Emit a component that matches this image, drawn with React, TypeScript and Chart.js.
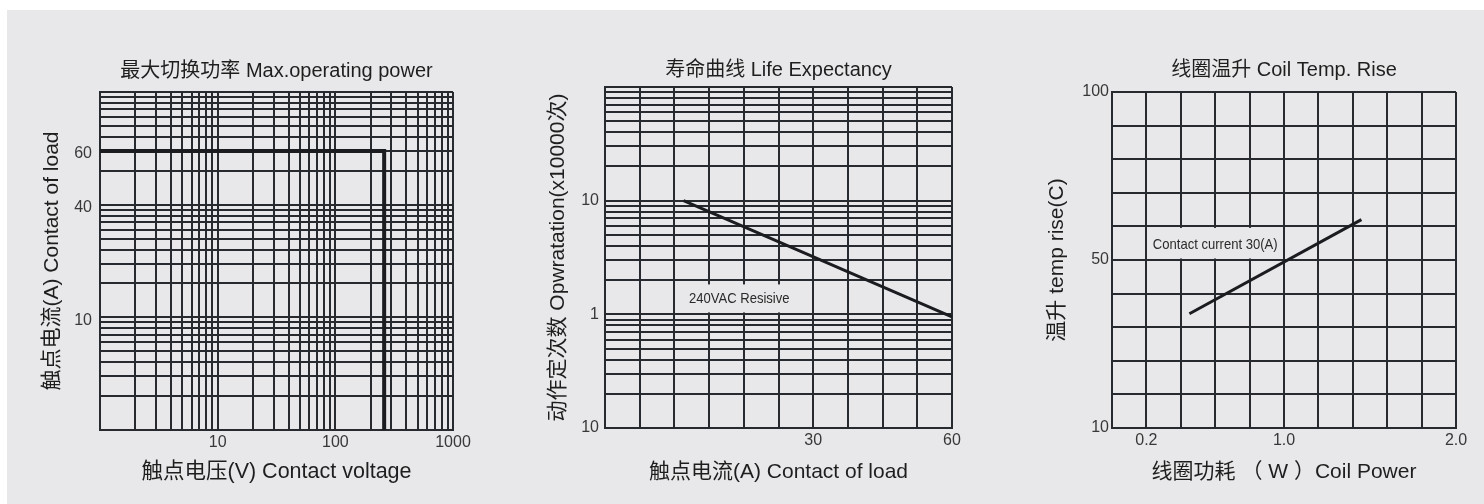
import React, { useEffect, useRef } from "react";
import { Chart, registerables } from "chart.js";

Chart.register(...registerables);

// ---------- shared look ----------
const FONT = '"Liberation Sans", Arial, "Noto Sans CJK SC", sans-serif';
const INK = "#272a2f";
const LINE_INK = "#1a1c1f";
const TITLE_COLOR = "#1e1e1e";
const TICK_COLOR = "#383838";
const PAGE_BG = "#e8e8ea";

// ---------- chart 1 : max operating power ----------
const powerTitle = "最大切换功率 Max.operating power";
const powerXTitle = "触点电压(V) Contact voltage";
const powerYTitle = "触点电流(A) Contact of load";
const powerXTickValues = [10, 100, 1000];
const powerXTickLabels = ["10", "100", "1000"];
// printed label -> position on the log paper
const powerYTickLabels = ["10", "40", "60"];
const powerYTickPaper = [10, 100, 300];
const powerVoltage = [1, 260, 260];
const powerCurrent: (number | null)[] = [60, 60, null]; // null = down to the paper floor
const POWER_X_MIN = 1, POWER_X_MAX = 1000, POWER_Y_MIN = 1, POWER_Y_MAX = 1000;

// ---------- chart 2 : life expectancy ----------
const lifeTitle = "寿命曲线 Life Expectancy";
const lifeXTitle = "触点电流(A) Contact of load";
const lifeYTitle = "动作定次数 Opwratation(x10000次)";
const lifeXTickValues = [30, 60];
const lifeXTickLabels = ["30", "60"];
const lifeYTickValues = [0.1, 1, 10];
const lifeYTickLabels = ["10", "1", "10"];
const lifeCurrent = [15, 60];
const lifeOperations = [10, 0.95];
const lifeNote = "240VAC Resisive";
const lifeNoteAt = { x: 20, y: 1.38 };
const LIFE_X_MIN = 10, LIFE_X_MAX = 60, LIFE_Y_MIN = 0.1, LIFE_Y_MAX = 100;

// ---------- chart 3 : coil temperature rise ----------
const coilTitle = "线圈温升 Coil Temp. Rise";
const coilXTitle = "线圈功耗 （ W ）Coil Power";
const coilYTitle = "温升 temp rise(C)";
const coilXTickValues = [0.2, 1.0, 2.0];
const coilXTickLabels = ["0.2", "1.0", "2.0"];
const coilYTickValues = [0, 50, 100];
const coilYTickLabels = ["10", "50", "100"];
const coilPower = [0.45, 1.45];
const coilTemp = [34, 62];
const coilNote = "Contact current 30(A)";
const coilNoteAt = { x: 0.6, y: 54.5 };
const coilNoteBox = { x0: 0.2, x1: 1.0, y0: 50, y1: 60 };
const COIL_X_MIN = 0, COIL_X_MAX = 2, COIL_X_STEP = 0.2, COIL_Y_MIN = 0, COIL_Y_MAX = 100, COIL_Y_STEP = 10;

// ---------- helpers ----------
function logPaper(min: number, max: number): number[] {
  const out: number[] = [];
  for (let e = Math.floor(Math.log10(min)); Math.pow(10, e) <= max * 1.0001; e++) {
    for (let m = 1; m < 10; m++) {
      const v = +(m * Math.pow(10, e)).toPrecision(6);
      if (v >= min * 0.9999 && v <= max * 1.0001) out.push(v);
    }
  }
  return out;
}
function linPaper(min: number, max: number, step: number): number[] {
  const out: number[] = [];
  const n = Math.round((max - min) / step);
  for (let i = 0; i <= n; i++) out.push(+(min + i * step).toFixed(6));
  return out;
}
function pickLabel(v: number, values: number[], labels: string[], log: boolean): string {
  for (let i = 0; i < values.length; i++) {
    const d = log ? Math.abs(Math.log10(v) - Math.log10(values[i])) : Math.abs(v - values[i]);
    if (d < (log ? 0.03 : 1e-6)) return labels[i];
  }
  return "";
}
// printed current label -> log-paper position (log interpolation between printed anchors)
function powerToPaper(label: number): number {
  const L = powerYTickLabels.map(Number);
  for (let i = 0; i < L.length - 1; i++) {
    if (label <= L[i + 1] || i === L.length - 2) {
      const t = (Math.log10(label) - Math.log10(L[i])) / (Math.log10(L[i + 1]) - Math.log10(L[i]));
      return Math.pow(10, Math.log10(powerYTickPaper[i]) + t * (Math.log10(powerYTickPaper[i + 1]) - Math.log10(powerYTickPaper[i])));
    }
  }
  return label;
}

function gridOpts() {
  return {
    grid: { color: INK, lineWidth: 2, drawTicks: false },
    border: { display: true, color: INK, width: 2 },
  };
}
function tickFont() {
  return { family: FONT, size: 16 };
}
function titleFont(size: number) {
  return { family: FONT, size, weight: "normal" as const, lineHeight: 1.2 };
}

function notePlugin(id: string, text: string, at: { x: number; y: number }, box: { x0: number; x1: number; y0: number; y1: number } | null, padX: number, h: number) {
  return {
    id,
    beforeDatasetsDraw(chart: any) {
      const { ctx, scales } = chart;
      const xs = scales.x, ys = scales.y;
      ctx.save();
      ctx.font = `15px ${FONT}`;
      const condense = 0.87;
      const tw = ctx.measureText(text).width * condense;
      const cx = xs.getPixelForValue(at.x);
      const cy = ys.getPixelForValue(at.y);
      ctx.fillStyle = PAGE_BG;
      if (box) {
        const l = xs.getPixelForValue(box.x0) + 1.5;
        const r = xs.getPixelForValue(box.x1) - 1.5;
        const t = ys.getPixelForValue(box.y1) + 1.5;
        const b = ys.getPixelForValue(box.y0) - 1.5;
        ctx.fillRect(l, t, r - l, b - t);
      } else {
        ctx.fillRect(cx - tw / 2 - padX, cy - h / 2, tw + padX * 2, h);
      }
      ctx.fillStyle = "#2a2a2a";
      ctx.textAlign = "center";
      ctx.textBaseline = "middle";
      ctx.translate(cx, cy);
      ctx.scale(condense, 1);
      ctx.fillText(text, 0, 0);
      ctx.restore();
    },
  };
}

// ---------- configs ----------
function powerConfig(): any {
  const xGrid = logPaper(POWER_X_MIN, POWER_X_MAX);
  const yGrid = logPaper(POWER_Y_MIN, POWER_Y_MAX);
  const pts = powerVoltage.map((v, i) => ({
    x: v,
    y: powerCurrent[i] == null ? POWER_Y_MIN : powerToPaper(powerCurrent[i] as number),
  }));
  return {
    type: "line",
    data: { datasets: [{ data: pts, borderColor: LINE_INK, borderWidth: 4, pointRadius: 0, tension: 0, fill: false }] },
    options: {
      responsive: false,
      animation: false,
      layout: { padding: { left: 0, right: 47, top: 0, bottom: 0 } },
      plugins: {
        legend: { display: false },
        tooltip: { enabled: false },
        title: { display: true, text: powerTitle, fullSize: false, color: TITLE_COLOR, font: titleFont(20), padding: { top: 59, bottom: 9 } },
      },
      scales: {
        x: {
          type: "logarithmic", min: POWER_X_MIN, max: POWER_X_MAX, position: "bottom",
          afterBuildTicks: (s: any) => { s.ticks = xGrid.map((v) => ({ value: v })); },
          afterFit: (s: any) => { s.height = 74; },
          ticks: { autoSkip: false, maxRotation: 0, minRotation: 0, padding: 3, color: TICK_COLOR, font: tickFont(),
            callback: (v: number) => pickLabel(v, powerXTickValues, powerXTickLabels, true) },
          title: { display: true, text: powerXTitle, color: TITLE_COLOR, font: titleFont(21.5), padding: { top: 0, bottom: 19 } },
          ...gridOpts(),
        },
        y: {
          type: "logarithmic", min: POWER_Y_MIN, max: POWER_Y_MAX, position: "left",
          afterBuildTicks: (s: any) => { s.ticks = yGrid.map((v) => ({ value: v })); },
          afterFit: (s: any) => { s.width = 100; },
          ticks: { autoSkip: false, padding: 8, labelOffset: 3, color: TICK_COLOR, font: tickFont(),
            callback: (v: number) => pickLabel(v, powerYTickPaper, powerYTickLabels, true) },
          title: { display: true, text: powerYTitle, color: TITLE_COLOR, font: titleFont(21), padding: { top: 39.4, bottom: 0 } },
          ...gridOpts(),
        },
      },
    },
  };
}

function lifeConfig(): any {
  const xGrid: number[] = [];
  for (let i = 0; i <= 10; i++) xGrid.push(LIFE_X_MIN * Math.pow(LIFE_X_MAX / LIFE_X_MIN, i / 10));
  const yGrid = logPaper(LIFE_Y_MIN, LIFE_Y_MAX);
  const pts = lifeCurrent.map((c, i) => ({ x: c, y: lifeOperations[i] }));
  return {
    type: "line",
    data: { datasets: [{ data: pts, borderColor: LINE_INK, borderWidth: 3, pointRadius: 0, tension: 0, fill: false }] },
    options: {
      responsive: false,
      animation: false,
      layout: { padding: { left: 0, right: 48, top: 0, bottom: 0 } },
      plugins: {
        legend: { display: false },
        tooltip: { enabled: false },
        title: { display: true, text: lifeTitle, fullSize: false, color: TITLE_COLOR, font: titleFont(20), padding: { top: 58, bottom: 5 } },
      },
      scales: {
        x: {
          type: "logarithmic", min: LIFE_X_MIN, max: LIFE_X_MAX, position: "bottom",
          afterBuildTicks: (s: any) => { s.ticks = xGrid.map((v) => ({ value: v })); },
          afterFit: (s: any) => { s.height = 76; },
          ticks: { autoSkip: false, maxRotation: 0, minRotation: 0, padding: 3.4, color: TICK_COLOR, font: tickFont(),
            callback: (v: number) => pickLabel(v, lifeXTickValues, lifeXTickLabels, true) },
          title: { display: true, text: lifeXTitle, color: TITLE_COLOR, font: titleFont(21), padding: { top: 0, bottom: 19.4 } },
          ...gridOpts(),
        },
        y: {
          type: "logarithmic", min: LIFE_Y_MIN, max: LIFE_Y_MAX, position: "left",
          afterBuildTicks: (s: any) => { s.ticks = yGrid.map((v) => ({ value: v })); },
          afterFit: (s: any) => { s.width = 105; },
          ticks: { autoSkip: false, padding: 6, color: TICK_COLOR, font: tickFont(),
            callback: (v: number) => pickLabel(v, lifeYTickValues, lifeYTickLabels, true) },
          title: { display: true, text: lifeYTitle, color: TITLE_COLOR, font: titleFont(21), padding: { top: 45.4, bottom: 0 } },
          ...gridOpts(),
        },
      },
    },
    plugins: [notePlugin("lifeNote", lifeNote, lifeNoteAt, null, 12, 28)],
  };
}

function coilConfig(): any {
  const xGrid = linPaper(COIL_X_MIN, COIL_X_MAX, COIL_X_STEP);
  const yGrid = linPaper(COIL_Y_MIN, COIL_Y_MAX, COIL_Y_STEP);
  const pts = coilPower.map((p, i) => ({ x: p, y: coilTemp[i] }));
  return {
    type: "line",
    data: { datasets: [{ data: pts, borderColor: LINE_INK, borderWidth: 3, pointRadius: 0, tension: 0, fill: false }] },
    options: {
      responsive: false,
      animation: false,
      layout: { padding: { left: 0, right: 28, top: 0, bottom: 0 } },
      plugins: {
        legend: { display: false },
        tooltip: { enabled: false },
        title: { display: true, text: coilTitle, fullSize: false, color: TITLE_COLOR, font: titleFont(20), padding: { top: 58.5, bottom: 9.5 } },
      },
      scales: {
        x: {
          type: "linear", min: COIL_X_MIN, max: COIL_X_MAX, position: "bottom",
          afterBuildTicks: (s: any) => { s.ticks = xGrid.map((v) => ({ value: v })); },
          afterFit: (s: any) => { s.height = 76; },
          ticks: { autoSkip: false, maxRotation: 0, minRotation: 0, padding: 3.4, color: TICK_COLOR, font: tickFont(),
            callback: (v: number) => pickLabel(v, coilXTickValues, coilXTickLabels, false) },
          title: { display: true, text: coilXTitle, color: TITLE_COLOR, font: titleFont(21), padding: { top: 0, bottom: 19.4 } },
          ...gridOpts(),
        },
        y: {
          type: "linear", min: COIL_Y_MIN, max: COIL_Y_MAX, position: "left",
          afterBuildTicks: (s: any) => { s.ticks = yGrid.map((v) => ({ value: v })); },
          afterFit: (s: any) => { s.width = 112; },
          ticks: { autoSkip: false, padding: 3, color: TICK_COLOR, font: tickFont(),
            callback: (v: number) => pickLabel(v, coilYTickValues, coilYTickLabels, false) },
          title: { display: true, text: coilYTitle, color: TITLE_COLOR, font: titleFont(21), padding: { top: 44.4, bottom: 0 } },
          ...gridOpts(),
        },
      },
    },
    plugins: [notePlugin("coilNote", coilNote, coilNoteAt, coilNoteBox, 2, 28)],
  };
}

function ChartCanvas({ left, width, build }: { left: number; width: number; build: () => any }) {
  const ref = useRef<HTMLCanvasElement | null>(null);
  useEffect(() => {
    if (!ref.current) return;
    const chart = new Chart(ref.current, build());
    return () => chart.destroy();
  }, []);
  return (
    <canvas
      ref={ref}
      width={width}
      height={504}
      style={{ position: "absolute", left, top: 0, width, height: 504 }}
    />
  );
}

export default function App() {
  return (
    <div style={{ position: "fixed", left: 0, top: 0, width: 1484, height: 504, background: "#ffffff", overflow: "hidden" }}>
      <div style={{ position: "absolute", left: 7, top: 10, right: 0, bottom: 0, background: PAGE_BG }} />
      <ChartCanvas left={0} width={500} build={powerConfig} />
      <ChartCanvas left={500} width={500} build={lifeConfig} />
      <ChartCanvas left={1000} width={484} build={coilConfig} />
    </div>
  );
}
